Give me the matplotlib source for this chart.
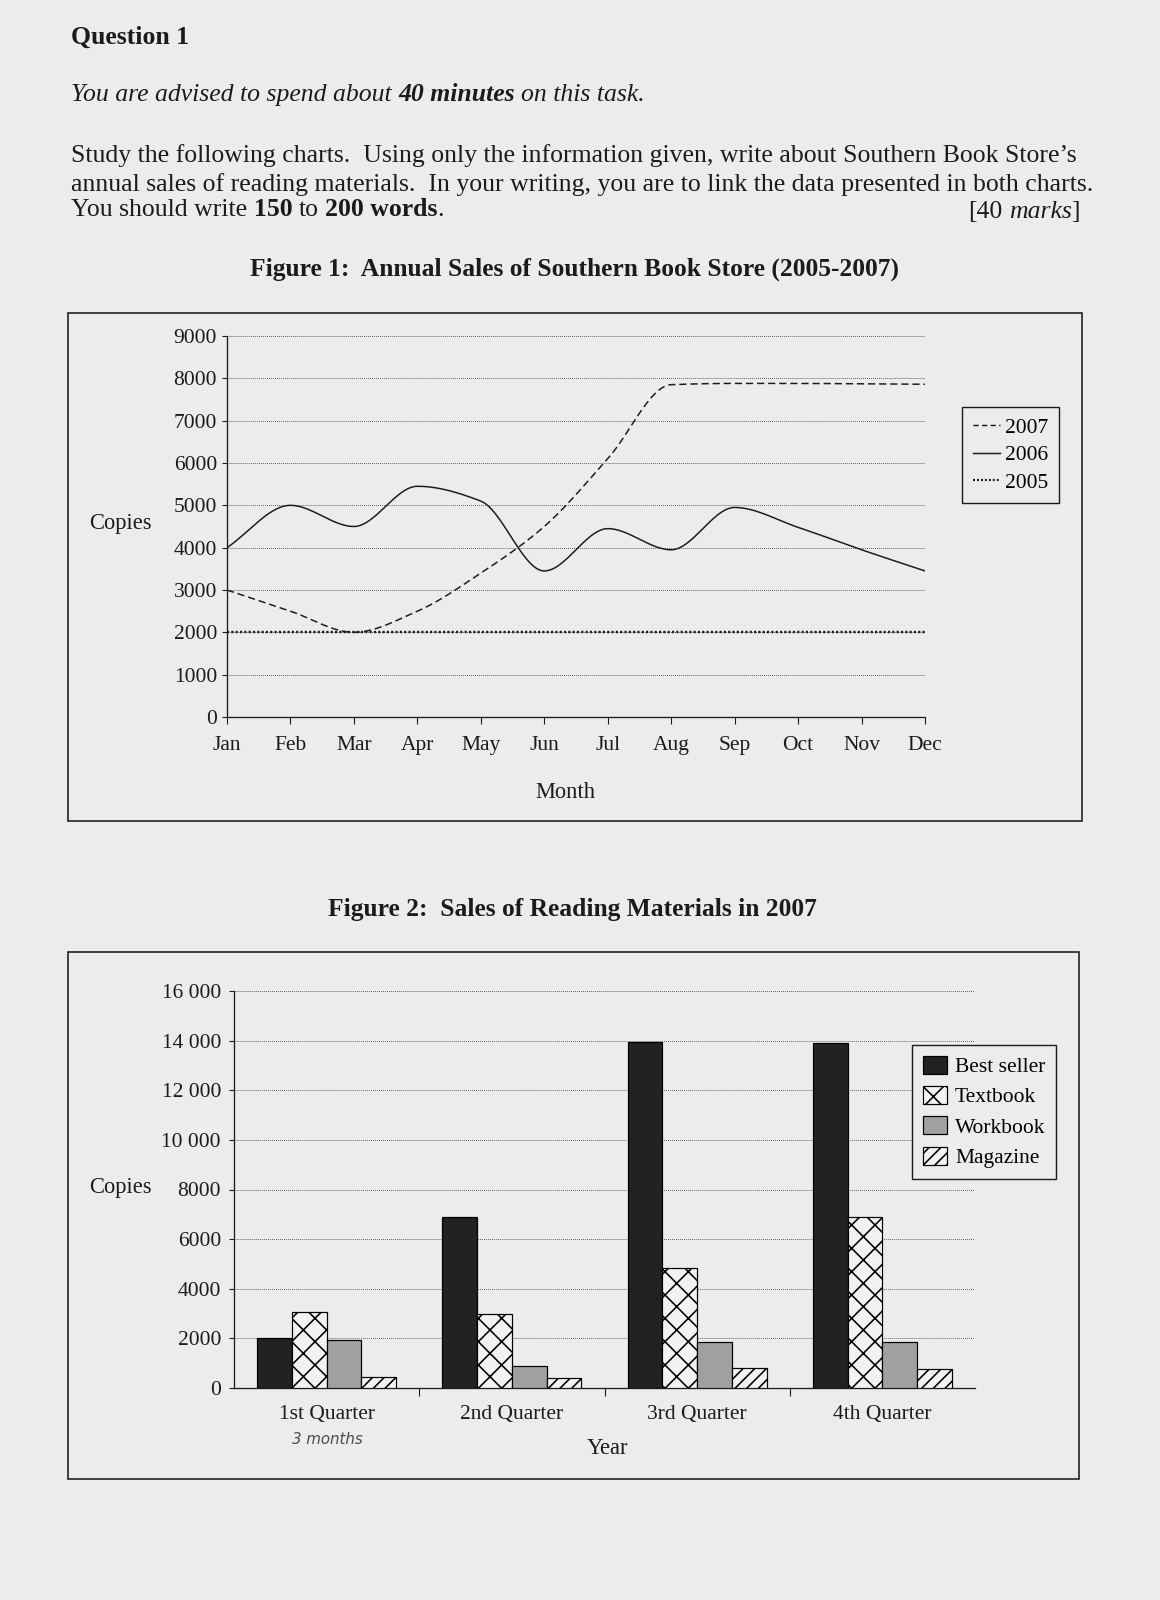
import numpy as np
import matplotlib
matplotlib.use("Agg")
import matplotlib.pyplot as plt
from matplotlib.patches import Rectangle
from matplotlib.lines import Line2D

# page geometry (pixels); dpi 70 gives the hatch spacing of the scan
W, H, DPI = 1160, 1600, 70
PT = 72 / DPI          # pixels -> points

BG = "#ececec"
INK = "#1b1b1b"

# =========================
# data
# =========================
months = ["Jan", "Feb", "Mar", "Apr", "May", "Jun",
          "Jul", "Aug", "Sep", "Oct", "Nov", "Dec"]
sales_2007 = [3000, 2500, 2000, 2500, 3400, 4500, 6100, 7850, 7880, 7880, 7870, 7860]
sales_2006 = [4000, 5000, 4500, 5450, 5100, 3450, 4450, 3950, 4950, 4480, 3950, 3450]
sales_2005 = [2000, 2000, 2000, 2000, 2000, 2000, 2000, 2000, 2000, 2000, 2000, 2000]

quarters = ["1st Quarter", "2nd Quarter", "3rd Quarter", "4th Quarter"]
best_seller = [2000, 6900, 13950, 13900]
textbook = [3050, 3000, 4850, 6900]
workbook = [1950, 900, 1850, 1850]
magazine = [450, 400, 800, 780]

fig1_yticks = [0, 1000, 2000, 3000, 4000, 5000, 6000, 7000, 8000, 9000]
fig2_yticks = [0, 2000, 4000, 6000, 8000, 10000, 12000, 14000, 16000]
fig2_ylabels = ["0", "2000", "4000", "6000", "8000", "10 000", "12 000", "14 000", "16 000"]

LINE1 = ("Study the following charts.  Using only the information given, "
         "write about Southern Book Store\u2019s")
LINE2 = ("annual sales of reading materials.  In your writing, you are to "
         "link the data presented in both charts.")

plt.rcParams["font.family"] = ["Liberation Serif", "DejaVu Serif"]
plt.rcParams["hatch.linewidth"] = 1.6 * PT
plt.rcParams["hatch.color"] = "black"


def smooth(xs, ys, n=30):
    # monotone cubic (Fritsch-Carlson) drawn through the data points
    x = np.asarray(xs, float)
    y = np.asarray(ys, float)
    h = np.diff(x)
    d = np.diff(y) / h
    m = np.zeros_like(y)
    m[0], m[-1] = d[0], d[-1]
    for i in range(1, len(y) - 1):
        if d[i - 1] * d[i] > 0:
            m[i] = 2 / (1 / d[i - 1] + 1 / d[i])
    out_x, out_y = [], []
    for i in range(len(h)):
        t = np.linspace(0, 1, n, endpoint=(i == len(h) - 1))
        h00 = 2 * t**3 - 3 * t**2 + 1
        h10 = t**3 - 2 * t**2 + t
        h01 = -2 * t**3 + 3 * t**2
        h11 = t**3 - t**2
        out_x.append(x[i] + t * h[i])
        out_y.append(h00 * y[i] + h10 * h[i] * m[i] + h01 * y[i + 1] + h11 * h[i] * m[i + 1])
    return np.concatenate(out_x), np.concatenate(out_y)


def fx(px):
    return px / W


def fy(py):
    return 1 - py / H


fig = plt.figure(figsize=(W / DPI, H / DPI), dpi=DPI, facecolor=BG)
renderer = fig.canvas.get_renderer()


def fit_size(text, width_px, weight="normal", base=20.0):
    probe = fig.text(0, 0, text, fontsize=base, fontweight=weight)
    w = probe.get_window_extent(renderer).width
    probe.remove()
    return base * width_px / w


def write_runs(x, y, runs, size, align="left"):
    # runs: (text, weight, style, spaces before)
    texts, widths = [], []
    for text, weight, style, gap in runs:
        t = fig.text(0, fy(y), text, fontsize=size, fontweight=weight,
                     fontstyle=style, va="baseline", ha="left", color=INK)
        texts.append(t)
        widths.append(t.get_window_extent(renderer).width)
    sp = 0.25 * size / PT
    total = sum(widths) + sp * sum(r[3] for r in runs)
    if align == "right":
        x -= total
    for t, w, r in zip(texts, widths, runs):
        x += sp * r[3]
        t.set_x(fx(x))
        x += w


# =========================
# header text
# =========================
BODY = fit_size(LINE1, 1008)
TITLE = fit_size("Figure 1:  Annual Sales of Southern Book Store (2005-2007)", 652, "bold")

write_runs(71, 44, [("Question 1", "bold", "normal", 0)], BODY)
write_runs(71, 101, [("You are advised to spend about", "normal", "italic", 0),
                     ("40 minutes", "bold", "italic", 1),
                     ("on this task.", "normal", "italic", 1)], BODY)
write_runs(71, 162, [(LINE1, "normal", "normal", 0)], BODY)
write_runs(71, 191, [(LINE2, "normal", "normal", 0)], BODY)
write_runs(71, 216, [("You should write", "normal", "normal", 0),
                     ("150", "bold", "normal", 1),
                     ("to", "normal", "normal", 1),
                     ("200 words", "bold", "normal", 1),
                     (".", "normal", "normal", 0)], BODY)
write_runs(1080, 218, [("[40", "normal", "normal", 0),
                       ("marks", "normal", "italic", 1),
                       ("]", "normal", "normal", 0)], BODY, align="right")

fig.text(fx(575), fy(276), "Figure 1:  Annual Sales of Southern Book Store (2005-2007)",
         fontsize=TITLE, fontweight="bold", ha="center", va="baseline", color=INK)
fig.text(fx(572), fy(916), "Figure 2:  Sales of Reading Materials in 2007",
         fontsize=TITLE, fontweight="bold", ha="center", va="baseline", color=INK)

# frames round both charts
for x0, y0, x1, y1 in [(68, 313, 1082, 821), (68, 952, 1079, 1479)]:
    fig.add_artist(Rectangle((fx(x0), fy(y1)), (x1 - x0) / W, (y1 - y0) / H,
                             transform=fig.transFigure, fill=False,
                             edgecolor=INK, linewidth=1.6 * PT))

TICK = 21.5 * PT
LABEL = 22.5 * PT

# =========================
# Figure 1: line chart
# =========================
ax1 = fig.add_axes([fx(227), fy(717), (925 - 227) / W, (717 - 336) / H])
ax1.set_facecolor("none")
xm = np.arange(len(months))

sx, sy = smooth(xm, sales_2007)
ax1.plot(sx, sy, color=INK, lw=1.5 * PT, ls=(0, (4.8, 2.6)), label="2007")
sx, sy = smooth(xm, sales_2006)
ax1.plot(sx, sy, color=INK, lw=1.5 * PT, ls="-", label="2006")
ax1.plot(xm, sales_2005, color=INK, lw=2.4 * PT, ls=(0, (0.9, 0.9)), label="2005")

ax1.set_xlim(0, 11)
ax1.set_ylim(0, 9000)
ax1.set_xticks(xm)
ax1.set_xticklabels(months)
ax1.set_yticks(fig1_yticks)
ax1.set_yticklabels([str(v) for v in fig1_yticks])
ax1.yaxis.grid(True, ls=(0, (1, 1.2)), color="#4d4d4d", lw=0.9 * PT)
ax1.set_axisbelow(True)
for side in ["top", "right"]:
    ax1.spines[side].set_visible(False)
for side in ["left", "bottom"]:
    ax1.spines[side].set_linewidth(1.3 * PT)
    ax1.spines[side].set_color(INK)
ax1.tick_params(axis="y", direction="out", length=5 * PT, width=1.1 * PT,
                pad=5 * PT, labelsize=TICK, colors=INK)
ax1.tick_params(axis="x", direction="out", length=7 * PT, width=1.1 * PT,
                pad=12 * PT, labelsize=TICK, colors=INK)

handles = [Line2D([], [], color=INK, lw=1.5 * PT, ls=(0, (3.5, 2.2))),
           Line2D([], [], color=INK, lw=1.5 * PT, ls="-"),
           Line2D([], [], color=INK, lw=2.2 * PT, ls=(0, (0.9, 0.9)))]
leg1 = ax1.legend(handles, ["2007", "2006", "2005"], loc="upper left",
                  bbox_to_anchor=(fx(962), fy(407)), bbox_transform=fig.transFigure,
                  borderaxespad=0, fontsize=TICK, frameon=True, fancybox=False,
                  edgecolor=INK, facecolor=BG, framealpha=1, borderpad=0.5,
                  handlelength=1.25, handletextpad=0.25, labelspacing=0.34)
leg1.get_frame().set_linewidth(1.4 * PT)

fig.text(fx(120), fy(523), "Copies", fontsize=LABEL, ha="center", va="center", color=INK)
fig.text(fx(565), fy(793), "Month", fontsize=LABEL, ha="center", va="center", color=INK)

# =========================
# Figure 2: grouped bars
# =========================
ax2 = fig.add_axes([fx(234), fy(1388), (975 - 234) / W, (1388 - 991) / H])
ax2.set_facecolor("none")
xq = np.arange(len(quarters))
bw = 0.1875

series = [(best_seller, "Best seller", "#222222", None),
          (textbook, "Textbook", "#f2f2f2", "x"),
          (workbook, "Workbook", "#a0a0a0", None),
          (magazine, "Magazine", "#f2f2f2", "//")]
for i, (vals, name, col, hatch) in enumerate(series):
    ax2.bar(xq + (i - 1.5) * bw, vals, width=bw, color=col, hatch=hatch,
            edgecolor="black", linewidth=1.2 * PT, label=name, zorder=3)

ax2.set_xlim(-0.5, 3.5)
ax2.set_ylim(0, 16000)
ax2.set_yticks(fig2_yticks)
ax2.set_yticklabels(fig2_ylabels)
ax2.set_xticks([0.5, 1.5, 2.5])
ax2.set_xticklabels([])
ax2.set_xticks(xq, minor=True)
ax2.set_xticklabels(quarters, minor=True)
ax2.yaxis.grid(True, ls=(0, (1, 1.2)), color="#4d4d4d", lw=0.9 * PT)
ax2.set_axisbelow(True)
for side in ["top", "right"]:
    ax2.spines[side].set_visible(False)
for side in ["left", "bottom"]:
    ax2.spines[side].set_linewidth(1.3 * PT)
    ax2.spines[side].set_color(INK)
ax2.tick_params(axis="y", direction="out", length=5 * PT, width=1.1 * PT,
                pad=8 * PT, labelsize=TICK, colors=INK)
ax2.tick_params(axis="x", which="major", direction="out", length=8 * PT,
                width=1.1 * PT, colors=INK)
ax2.tick_params(axis="x", which="minor", length=0, pad=17 * PT,
                labelsize=TICK, colors=INK)

leg2 = ax2.legend(loc="upper left", bbox_to_anchor=(fx(912), fy(1045)),
                  bbox_transform=fig.transFigure, borderaxespad=0, fontsize=TICK,
                  frameon=True, fancybox=False, edgecolor=INK, facecolor=BG,
                  framealpha=1, borderpad=0.5, handlelength=1.15, handleheight=0.9,
                  handletextpad=0.35, labelspacing=0.42)
leg2.get_frame().set_linewidth(1.4 * PT)

fig.text(fx(120), fy(1187), "Copies", fontsize=LABEL, ha="center", va="center", color=INK)
fig.text(fx(607), fy(1448), "Year", fontsize=LABEL, ha="center", va="center", color=INK)
# pencil note under the first quarter
fig.text(fx(327), fy(1439), "3 months", fontsize=15 * PT, ha="center", va="center",
         color="#4a4a4a", family="DejaVu Sans", fontstyle="italic", fontweight="light")

fig.savefig("out.png", dpi=DPI, facecolor=BG)
